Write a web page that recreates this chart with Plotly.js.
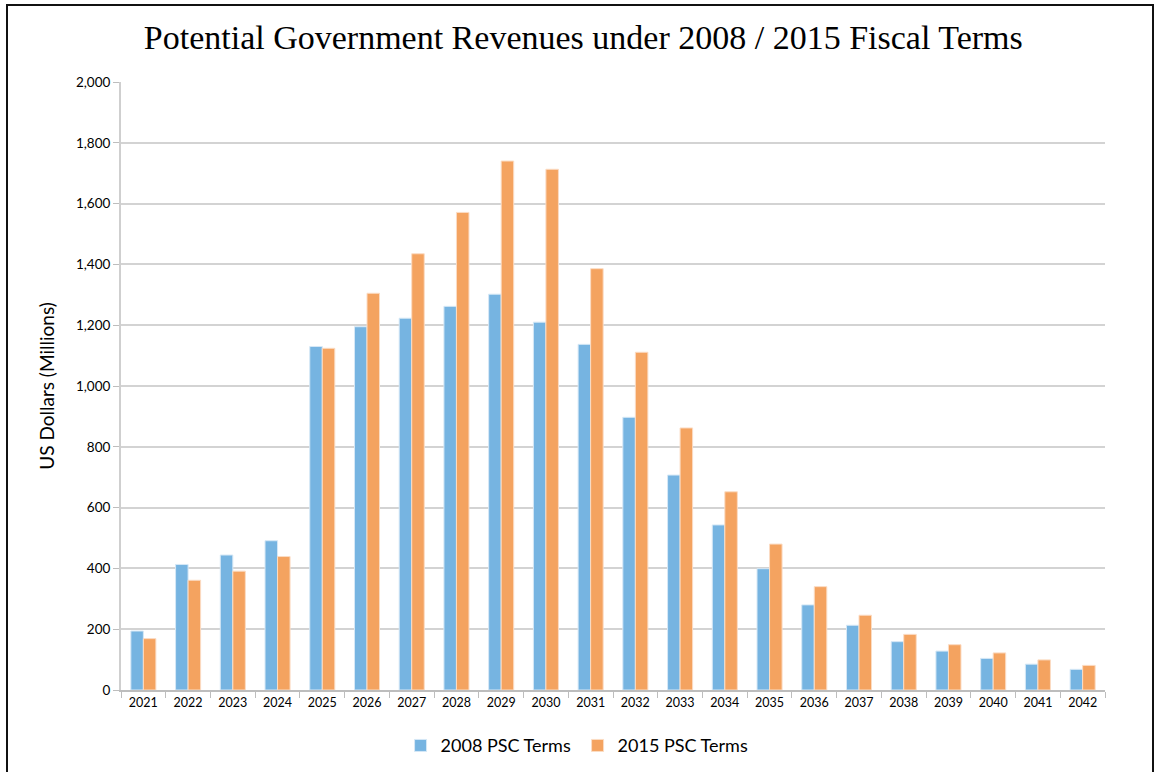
<!DOCTYPE html>
<html>
<head>
<meta charset="utf-8">
<script src="https://cdn.plot.ly/plotly-3.0.1.min.js"></script>
<style>
  html, body { margin: 0; padding: 0; background: #fff; }
  #wrap { position: relative; width: 1155px; height: 772px; overflow: hidden; }
  #chart { width: 1155px; height: 772px; }
  #frame { position: absolute; left: 6px; top: 4px; width: 1148px; height: 780px;
           border: 2px solid #111; pointer-events: none; box-sizing: border-box; }
</style>
</head>
<body>
<div id="wrap">
  <div id="chart"></div>
  <div id="frame"></div>
</div>
<script>
const years = ["2021","2022","2023","2024","2025","2026","2027","2028","2029","2030","2031",
               "2032","2033","2034","2035","2036","2037","2038","2039","2040","2041","2042"];
const psc2008 = [194, 413, 444, 491, 1130, 1195, 1223, 1262, 1302, 1210, 1137,
                 897, 707, 543, 399, 280, 213, 159, 128, 104, 85, 68];
const psc2015 = [169, 361, 391, 439, 1124, 1305, 1435, 1571, 1740, 1713, 1386,
                 1111, 862, 652, 480, 340, 246, 183, 149, 122, 99, 81];
const seriesNames = ["2008 PSC Terms", "2015 PSC Terms"];
const yTicks = [0, 200, 400, 600, 800, 1000, 1200, 1400, 1600, 1800, 2000];

const traces = [
  { type: "bar", name: seriesNames[0], x: years, y: psc2008,
    marker: { color: "#76B4E1", line: { color: "#D6E8F6", width: 1 } } },
  { type: "bar", name: seriesNames[1], x: years, y: psc2015,
    marker: { color: "#F4A360", line: { color: "#FBDCC4", width: 1 } } }
];

const layout = {
  width: 1155, height: 772,
  margin: { l: 121, r: 50, t: 82, b: 82 },
  paper_bgcolor: "#fff", plot_bgcolor: "#fff",
  barmode: "group", bargap: 0.44, bargroupgap: 0,
  title: { text: "Potential Government Revenues under 2008 / 2015 Fiscal Terms",
           font: { family: "Liberation Serif, DejaVu Serif, serif", size: 34, color: "#000" },
           x: 0.505, xanchor: "center", y: 0.952, yanchor: "middle" },
  xaxis: { type: "category", tickson: "boundaries", ticks: "outside", ticklen: 6,
           tickcolor: "#BDBDBD", showline: true, linecolor: "#BDBDBD", linewidth: 2,
           showgrid: false, tickfont: { family: "Lato, Carlito, sans-serif", size: 12.5, color: "#000" } },
  yaxis: { range: [0, 2000], tickvals: yTicks, tickformat: ",", ticks: "outside", ticklen: 6,
           tickcolor: "#BDBDBD", showline: true, linecolor: "#CFCFCF", linewidth: 2,
           gridcolor: "#D3D3D3", gridwidth: 2, zeroline: false,
           tickfont: { family: "Lato, Carlito, sans-serif", size: 13.5, color: "#000" },
           title: { text: "US Dollars (Millions)", standoff: 16,
                    font: { family: "Lato, Carlito, sans-serif", size: 19, color: "#000" } } },
  legend: { orientation: "h", xref: "paper", x: 0.464, xanchor: "center",
            yref: "container", y: 0.034, yanchor: "middle",
            font: { family: "Lato, Carlito, sans-serif", size: 18, color: "#000" },
            itemwidth: 30, entrywidth: 132, traceorder: "normal" },
  showlegend: true
};

Plotly.newPlot("chart", traces, layout, { displayModeBar: false, staticPlot: true });
</script>
</body>
</html>
